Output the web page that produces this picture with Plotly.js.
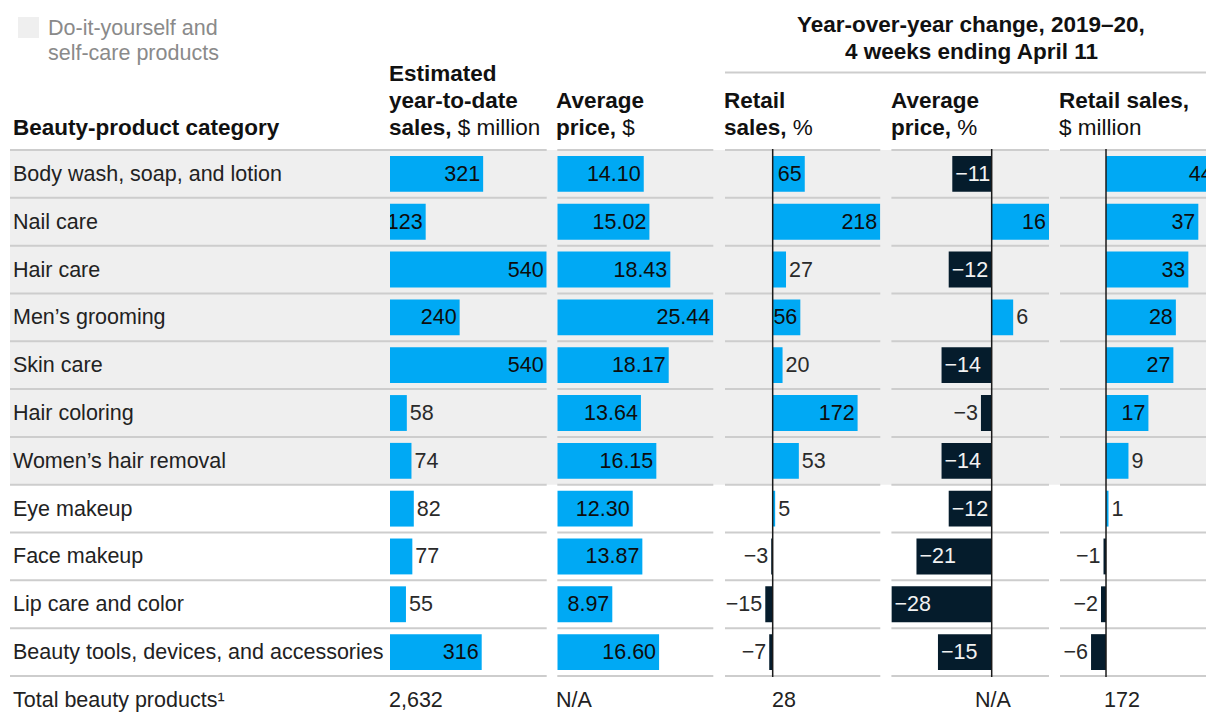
<!DOCTYPE html>
<html>
<head>
<meta charset="utf-8">
<script src="https://cdn.plot.ly/plotly-3.0.1.min.js"></script>
<style>html,body{margin:0;padding:0;background:#fff;}#chart{width:1206px;height:718px;}</style>
</head>
<body>
<div id="chart"></div>
<script>
// ---------- data ----------
const categories = [
  "Body wash, soap, and lotion",
  "Nail care",
  "Hair care",
  "Men\u2019s grooming",
  "Skin care",
  "Hair coloring",
  "Women\u2019s hair removal",
  "Eye makeup",
  "Face makeup",
  "Lip care and color",
  "Beauty tools, devices, and accessories"
];
const diyFlags = [true, true, true, true, true, true, true, false, false, false, false];
const ytdSales = [321, 123, 540, 240, 540, 58, 74, 82, 77, 55, 316];
const avgPrice = [14.10, 15.02, 18.43, 25.44, 18.17, 13.64, 16.15, 12.30, 13.87, 8.97, 16.60];
const retailSalesPct = [65, 218, 27, 56, 20, 172, 53, 5, -3, -15, -7];
const avgPricePct = [-11, 16, -12, 6, -14, -3, -14, -12, -21, -28, -15];
const retailSalesUsd = [44, 37, 33, 28, 27, 17, 9, 1, -1, -2, -6];
const totalLabel = "Total beauty products\u00b9";
const totals = ["2,632", "N/A", "28", "N/A", "172"];

// ---------- styling ----------
const W = 1206, H = 718;
const px = x => x / W;
const py = y => 1 - y / H;
const FONT = "Liberation Sans, Arial, sans-serif";
const FS = 21.5;     // regular text
const FSB = 22.5;    // bold headers
const BLUE = "#00a9f4", NAVY = "#051c2c";
const TOP = 149, BOTTOM = 677;
const PAD = 3;       // annotation inner padding compensation

const I = "inside", O = "outside";
const pos1 = [I, I, I, I, I, O, O, O, O, O, I];
const pos2 = [I, I, I, I, I, I, I, I, I, I, I];
const pos3 = [I, I, O, I, O, I, O, O, O, O, O];
const pos4 = [I, I, I, O, I, O, I, I, I, I, I];
const pos5 = [I, I, I, I, I, I, O, O, O, O, O];

const fmtInt = v => (v < 0 ? "\u2212" + Math.abs(v) : String(v));
const fmtDec = v => v.toFixed(2);

const cols = [
  {ax: "x",  dom: [390, 546.7],   range: [0, 540],         vals: ytdSales,       pos: pos1, fmt: fmtInt},
  {ax: "x2", dom: [557.3, 713.3], range: [0, 25.44],       vals: avgPrice,       pos: pos2, fmt: fmtDec},
  {ax: "x3", dom: [725, 880.3],   range: [-96.6, 218],     vals: retailSalesPct, pos: pos3, fmt: fmtInt, zero: true},
  {ax: "x4", dom: [891.4, 1049],  range: [-28, 16],        vals: avgPricePct,    pos: pos4, fmt: fmtInt, zero: true},
  {ax: "x5", dom: [1060, 1206],   range: [-18.44, 40.08],  vals: retailSalesUsd, pos: pos5, fmt: fmtInt, zero: true}
];

const traces = cols.map(c => ({
  type: "bar",
  orientation: "h",
  y: categories,
  x: c.vals,
  xaxis: c.ax,
  yaxis: "y",
  marker: {color: c.vals.map(v => v < 0 ? NAVY : BLUE), line: {width: 0}},
  text: c.vals.map(c.fmt),
  textposition: c.pos,
  insidetextanchor: "end",
  textangle: 0,
  constraintext: "none",
  insidetextfont: {family: FONT, size: FS, color: c.vals.map(v => v < 0 ? "#f2f2f2" : "#0d0d0d")},
  outsidetextfont: {family: FONT, size: FS, color: "#2a2a2a"},
  hoverinfo: "skip",
  showlegend: false
}));

const layout = {
  width: W, height: H,
  margin: {l: 0, r: 0, t: 0, b: 0},
  paper_bgcolor: "#ffffff",
  plot_bgcolor: "rgba(0,0,0,0)",
  bargap: 0.25,
  hovermode: false,
  showlegend: false,
  font: {family: FONT, size: FS, color: "#222"},
  yaxis: {
    type: "category",
    categoryorder: "array",
    categoryarray: categories,
    autorange: "reversed",
    domain: [py(BOTTOM), py(TOP)],
    showticklabels: false, showgrid: false, zeroline: false, showline: false, ticks: "",
    fixedrange: true
  },
  shapes: [],
  annotations: []
};

cols.forEach((c, i) => {
  const key = i === 0 ? "xaxis" : "xaxis" + (i + 1);
  layout[key] = {
    domain: [px(c.dom[0]), px(c.dom[1])],
    range: c.range,
    anchor: "y",
    showticklabels: false, showgrid: false, zeroline: false, showline: false, ticks: "",
    fixedrange: true
  };
});

// DIY grey band
const firstDiy = diyFlags.indexOf(true);
const lastDiy = diyFlags.lastIndexOf(true);
layout.shapes.push({
  type: "rect", xref: "paper", yref: "y",
  x0: px(10), x1: 1, y0: firstDiy - 0.5, y1: lastDiy + 0.5,
  fillcolor: "#efefef", line: {width: 0}, layer: "below"
});

// row separators
const sepSegs = [[10, 546.7], [557.3, 713.3], [725, 880.3], [891.4, 1049], [1060, 1206]];
for (let k = 0; k <= categories.length; k++) {
  sepSegs.forEach(s => {
    layout.shapes.push({
      type: "line", xref: "paper", yref: "y",
      x0: px(s[0]), x1: px(s[1]), y0: k - 0.5, y1: k - 0.5,
      line: {color: "#cdcdcd", width: 2}, layer: "below"
    });
  });
}

// zero lines
cols.forEach(c => {
  if (c.zero) {
    layout.shapes.push({
      type: "line", xref: c.ax, yref: "paper",
      x0: 0, x1: 0, y0: py(BOTTOM), y1: py(TOP),
      line: {color: "#1a1a1a", width: 1.5}, layer: "above"
    });
  }
});

// group header underline
layout.shapes.push({
  type: "line", xref: "paper", yref: "paper",
  x0: px(725), x1: 1, y0: py(72.5), y1: py(72.5),
  line: {color: "#cdcdcd", width: 2}
});

// legend swatch
layout.shapes.push({
  type: "rect", xref: "paper", yref: "paper",
  x0: px(18), x1: px(39), y0: py(38), y1: py(17),
  fillcolor: "#efefef", line: {width: 0}
});

function ann(text, x, y, o) {
  o = o || {};
  const center = o.xanchor === "center";
  layout.annotations.push({
    text: text, xref: "paper", yref: "paper",
    x: px(center ? x : x - PAD), y: py(y),
    xanchor: o.xanchor || "left", yanchor: "middle",
    showarrow: false,
    font: {family: FONT, size: o.size || FS, color: o.color || "#111"},
    align: center ? "center" : "left"
  });
}

// legend text
ann("Do-it-yourself and", 49, 28, {color: "#8a8a8a"});
ann("self-care products", 49, 53, {color: "#8a8a8a"});

// headers
ann("<b>Beauty-product category</b>", 14, 127, {size: FSB});
ann("<b>Estimated</b>", 390, 73, {size: FSB});
ann("<b>year-to-date</b>", 390, 100, {size: FSB});
ann("<b>sales,</b> $ million", 390, 127, {size: FSB});
ann("<b>Average</b>", 557, 100, {size: FSB});
ann("<b>price,</b> $", 557, 127, {size: FSB});
ann("<b>Retail</b>", 725, 100, {size: FSB});
ann("<b>sales,</b> %", 725, 127, {size: FSB});
ann("<b>Average</b>", 892, 100, {size: FSB});
ann("<b>price,</b> %", 892, 127, {size: FSB});
ann("<b>Retail sales,</b>", 1060, 100, {size: FSB});
ann("$ million", 1060, 127, {size: FSB});
ann("<b>Year-over-year change, 2019\u201320,</b>", 971, 24, {xanchor: "center", size: FSB});
ann("<b>4 weeks ending April 11</b>", 971, 51, {xanchor: "center", size: FSB});

// category labels (from data)
categories.forEach(cat => {
  layout.annotations.push({
    text: cat, xref: "paper", yref: "y", x: px(14 - PAD), y: cat,
    xanchor: "left", yanchor: "middle", showarrow: false,
    font: {family: FONT, size: FS, color: "#222"}
  });
});

// totals row
ann(totalLabel, 14, 700, {color: "#222"});
ann(totals[0], 390, 700, {color: "#222"});
ann(totals[1], 557, 700, {color: "#222"});
ann(totals[2], 773, 700, {color: "#222"});
ann(totals[3], 993, 700, {color: "#222", xanchor: "center"});
ann(totals[4], 1105, 700, {color: "#222"});

Plotly.newPlot("chart", traces, layout, {staticPlot: true, displayModeBar: false});
</script>
</body>
</html>
